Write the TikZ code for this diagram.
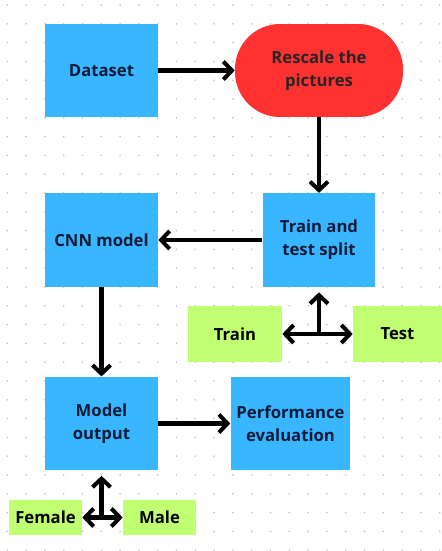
\documentclass[tikz,border=0pt]{standalone}
\usepackage{fontspec}
\setmainfont{Open Sans}
\usetikzlibrary{arrows.meta}

\definecolor{boxblue}{HTML}{38B6FF}
\definecolor{boxred}{HTML}{FF3131}
\definecolor{boxgreen}{HTML}{C1FF72}
\definecolor{inkblue}{HTML}{0E1B38}

\tikzset{
    every node/.style={font=\fontsize{9.5}{13}\selectfont\bfseries, align=center},
    bluebox/.style={fill=boxblue, text=inkblue, minimum width=2.26cm, minimum height=1.87cm},
    greenbox/.style={fill=boxgreen, text=black},
    flow/.style={line width=2.3pt, -{Straight Barb[length=1.7mm,width=3.6mm]}},
    twoway/.style={line width=2.3pt, {Straight Barb[length=1.7mm,width=3.6mm]}-{Straight Barb[length=1.7mm,width=3.6mm]}}
}

\begin{document}
\begin{tikzpicture}[x=0.02cm,y=-0.02cm]
    \useasboundingbox[fill=white] (0,0) rectangle (442,551);

    % dotted paper
    \foreach \i in {0,...,23}
        \foreach \j in {0,...,29}
            \fill[black!22] (7.3+18.8*\i,5+18.8*\j) circle (0.55pt);

    \node[bluebox] (data) at (101.5,70.5) {Dataset};
    \node[fill=boxred, text=black!85, rounded corners=0.9cm,
          minimum width=3.36cm, minimum height=1.86cm] (rescale) at (319,70.5) {Rescale the\\pictures};
    \node[bluebox] (split) at (319,240) {Train and\\test split};
    \node[bluebox] (cnn) at (101.5,240) {CNN model};
    \node[bluebox] (output) at (101.5,423.5) {Model\\output};
    \node[bluebox] (perf) at (290.5,423.5) {Performance\\evaluation};

    \node[greenbox, minimum width=1.88cm, minimum height=1.12cm] (train) at (235,334) {Train};
    \node[greenbox, minimum width=1.78cm, minimum height=1.12cm] (test) at (397.5,334) {Test};
    \node[greenbox, minimum width=1.46cm, minimum height=0.7cm] (female) at (45.5,517.5) {Female};
    \node[greenbox, minimum width=1.46cm, minimum height=0.7cm] (male) at (159.5,517.5) {Male};

    \draw[flow] (data) -- (rescale);
    \draw[flow] (rescale) -- (split);
    \draw[flow] (split) -- (cnn);
    \draw[flow] (cnn) -- (output);
    \draw[flow] (output) -- (perf);

    % split into train / test
    \coordinate (fork1) at (319,334);
    \draw[flow, shorten >=3pt] (fork1) -- (split);
    \draw[twoway] (train) -- (test);

    % output classes
    \coordinate (fork2) at (101.5,517.5);
    \draw[flow, shorten >=3pt] (fork2) -- (output);
    \draw[twoway] (female) -- (male);
\end{tikzpicture}
\end{document}
